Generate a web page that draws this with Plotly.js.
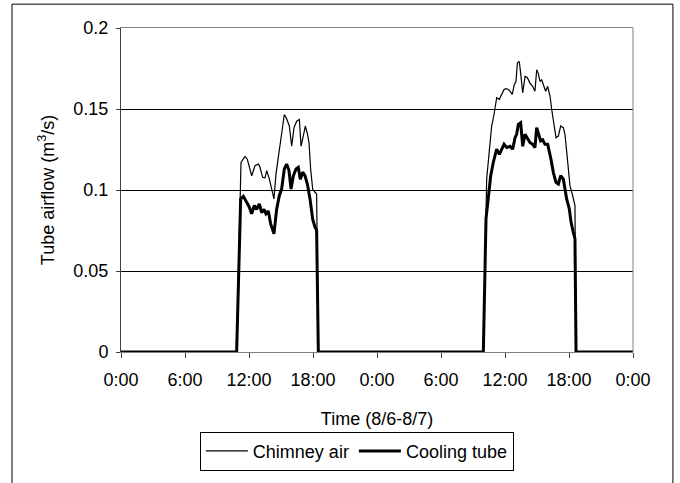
<!DOCTYPE html>
<html>
<head>
<meta charset="utf-8">
<script src="https://cdn.plot.ly/plotly-3.0.1.min.js"></script>
<style>html,body{margin:0;padding:0;background:#fff;}#chart{width:680px;height:483px;}</style>
</head>
<body>
<div id="chart"></div>
<script>
// Time in hours from 0:00 on 8/6
const chimneyHours = [0, 10.84, 11.25, 11.47, 11.63, 11.84, 12.25, 12.56, 12.88, 13.03, 13.28, 13.5, 13.66, 13.9, 14.13, 14.34, 14.53, 14.75, 15.0, 15.16, 15.31, 15.53, 15.78, 16.0, 16.22, 16.47, 16.72, 16.88, 17.09, 17.28, 17.47, 17.63, 17.78, 17.97, 18.19, 18.34, 18.5,
  33.97, 34.28, 34.53, 34.75, 34.97, 35.22, 35.47, 35.69, 35.91, 36.09, 36.31, 36.47, 36.68, 36.87, 37.03, 37.16, 37.34, 37.47, 37.66, 37.88, 38.09, 38.34, 38.59, 38.81, 38.97, 39.12, 39.28, 39.44, 39.59, 39.81, 40.0, 40.22, 40.38, 40.59, 40.78, 41.0, 41.22, 41.47, 41.62, 41.78, 41.93, 42.09, 42.34, 42.56, 42.66, 48];
const chimneyAir = [0, 0, 0.117, 0.1195, 0.1207, 0.119, 0.1088, 0.115, 0.116, 0.114, 0.1078, 0.1075, 0.112, 0.107, 0.0996, 0.0945, 0.110, 0.120, 0.129, 0.1395, 0.1466, 0.144, 0.1395, 0.127, 0.1385, 0.1425, 0.1435, 0.127, 0.1333, 0.1395, 0.135, 0.129, 0.113, 0.1006, 0.0986, 0.0975, 0,
  0, 0.1067, 0.123, 0.1395, 0.1466, 0.157, 0.156, 0.159, 0.162, 0.1626, 0.162, 0.161, 0.159, 0.165, 0.167, 0.1783, 0.1793, 0.172, 0.160, 0.1701, 0.1695, 0.166, 0.164, 0.161, 0.1742, 0.172, 0.167, 0.168, 0.165, 0.161, 0.164, 0.158, 0.1497, 0.1395, 0.1323, 0.1333, 0.1395, 0.1385, 0.1344, 0.124, 0.115, 0.1027, 0.0965, 0.0904, 0, 0];

const coolingHours = [0, 10.84, 11.22, 11.47, 11.78, 12.03, 12.25, 12.5, 12.72, 12.97, 13.19, 13.41, 13.59, 13.81, 14.03, 14.34, 14.59, 14.84, 15.06, 15.31, 15.53, 15.75, 15.94, 16.16, 16.41, 16.62, 16.81, 17.03, 17.25, 17.47, 17.72, 17.97, 18.19, 18.34, 18.5,
  33.97, 34.22, 34.44, 34.66, 34.9, 35.22, 35.47, 35.69, 35.91, 36.16, 36.47, 36.72, 36.94, 37.09, 37.25, 37.47, 37.66, 37.88, 38.09, 38.34, 38.59, 38.81, 38.97, 39.12, 39.34, 39.53, 39.75, 40.0, 40.15, 40.31, 40.53, 40.78, 41.0, 41.22, 41.47, 41.62, 41.78, 42.03, 42.19, 42.4, 42.56, 42.66, 48];
const coolingTube = [0, 0, 0.0945, 0.0961, 0.0924, 0.0894, 0.0853, 0.0904, 0.088, 0.0914, 0.086, 0.088, 0.0853, 0.087, 0.0791, 0.073, 0.088, 0.0965, 0.1006, 0.113, 0.116, 0.112, 0.1006, 0.1088, 0.113, 0.114, 0.1067, 0.111, 0.1088, 0.1037, 0.0945, 0.082, 0.0771, 0.0751, 0,
  0, 0.0822, 0.0965, 0.1088, 0.117, 0.1252, 0.122, 0.1252, 0.1282, 0.1262, 0.127, 0.1252, 0.1323, 0.1344, 0.1405, 0.1415, 0.127, 0.1344, 0.1323, 0.1293, 0.1282, 0.1262, 0.1385, 0.1344, 0.1303, 0.131, 0.1282, 0.1282, 0.124, 0.119, 0.1109, 0.1047, 0.1037, 0.1088, 0.1067, 0.1006, 0.0945, 0.0883, 0.0802, 0.074, 0.0699, 0, 0];

const xTickVals = [0, 6, 12, 18, 24, 30, 36, 42, 48];
const xTickText = ["0:00", "6:00", "12:00", "18:00", "0:00", "6:00", "12:00", "18:00", "0:00"];
const yTickVals = [0, 0.05, 0.1, 0.15, 0.2];
const yTickText = ["0", "0.05", "0.1", "0.15", "0.2"];

const traces = [
  {x: chimneyHours, y: chimneyAir, name: "Chimney air", type: "scatter", mode: "lines",
   line: {color: "#000", width: 1.2}},
  {x: coolingHours, y: coolingTube, name: "Cooling tube", type: "scatter", mode: "lines",
   line: {color: "#000", width: 3}}
];

const layout = {
  width: 680, height: 483,
  margin: {l: 121, r: 47, t: 28, b: 129},
  paper_bgcolor: "#fff", plot_bgcolor: "#fff",
  font: {family: "Liberation Sans, Arial, sans-serif", size: 18, color: "#000"},
  showlegend: true,
  xaxis: {
    range: [0, 48], tickmode: "array", tickvals: xTickVals, ticktext: xTickText,
    showgrid: false, zeroline: false, showline: true, linecolor: "#808080", linewidth: 1, mirror: true,
    ticks: "outside", ticklen: 5, tickcolor: "#404040", tickwidth: 1,
    ticklabelstandoff: 6,
    tickfont: {size: 18},
    title: {text: "Time (8/6-8/7)", font: {size: 18}, standoff: 23}
  },
  yaxis: {
    range: [0, 0.2], tickmode: "array", tickvals: yTickVals, ticktext: yTickText,
    showgrid: true, gridcolor: "#000", gridwidth: 1, zeroline: false,
    showline: true, linecolor: "#404040", linewidth: 1,
    ticks: "outside", ticklen: 4, tickcolor: "#404040", tickwidth: 1,
    ticklabelstandoff: 4,
    tickfont: {size: 18},
    title: {text: "Tube airflow (m<sup>3</sup>/s)", font: {size: 18}, standoff: 14}
  },
  legend: {
    orientation: "h", x: 0.154, xanchor: "left", y: -0.246, yanchor: "top",
    bordercolor: "#000", borderwidth: 1, bgcolor: "#fff",
    font: {size: 18}, itemwidth: 42
  },
  shapes: [
    {type: "line", xref: "paper", yref: "paper", x0: 1, x1: 1, y0: 0, y1: 1,
     line: {color: "#808080", width: 1}},
    {type: "rect", xref: "paper", yref: "paper", x0: -0.2129, x1: 1.078, y0: -0.41, y1: 1.0736,
     line: {color: "#000", width: 1}, fillcolor: "rgba(0,0,0,0)"}
  ]
};

Plotly.newPlot("chart", traces, layout, {displayModeBar: false, staticPlot: true});
</script>
</body>
</html>
